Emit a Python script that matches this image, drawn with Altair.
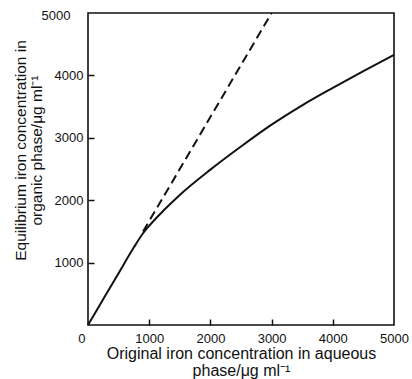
import altair as alt
import pandas as pd

# ---- data ----
solid_x = [0, 250, 500, 750, 900, 1000, 1250, 1500, 2000, 2500, 3000, 3500, 4000, 4500, 5000]
solid_y = [0, 415, 830, 1245, 1470, 1590, 1850, 2085, 2490, 2860, 3210, 3520, 3800, 4070, 4330]
dashed_x = [900, 3000]
dashed_y = [1500, 5000]
x_labels = [0, 1000, 2000, 3000, 4000, 5000]
y_labels = [1000, 2000, 3000, 4000, 5000]
x_inner_ticks = [1000, 2000, 3000, 4000]
y_inner_ticks = [1000, 2000, 3000, 4000]

df_s = pd.DataFrame({"x": solid_x, "y": solid_y})
df_d = pd.DataFrame({"x": dashed_x, "y": dashed_y})

W, H = 306, 312
FONT = "Liberation Sans"
INK = "#111111"

xscale = alt.Scale(domain=[0, 5000], nice=False)
yscale = alt.Scale(domain=[0, 5000], nice=False)

x_main_axis = alt.Axis(
    values=x_labels, format="d", ticks=False, domain=False, grid=False,
    labelFont=FONT, labelFontSize=13, labelColor=INK, labelPadding=7,
    labelFlush=False, labelOverlap=False,
    labelAlign={"condition": {"test": "datum.value == 0", "value": "right"}, "value": "center"},
    labelOffset={"condition": {"test": "datum.value == 0", "value": -3}, "value": 0},
    title=["Original iron concentration in aqueous", "phase/\u03bcg ml\u207b\u00b9"],
    titleFont=FONT, titleFontSize=16, titleFontWeight="normal", titleColor=INK,
    titleLineHeight=17, titleBaseline="top", titleY=20,
)
y_main_axis = alt.Axis(
    values=y_labels, format="d", ticks=False, domain=False, grid=False,
    labelFont=FONT, labelFontSize=13, labelColor=INK,
    labelOverlap=False,
    labelPadding={"condition": {"test": "datum.value == 5000", "value": 18}, "value": 5},
    labelOffset={"condition": {"test": "datum.value == 5000", "value": 2}, "value": 0},
    title=["Equilibrium iron concentration in", "organic phase/\u03bcg ml\u207b\u00b9"],
    titleFont=FONT, titleFontSize=15.5, titleFontWeight="normal", titleColor=INK,
    titleLineHeight=16, titleBaseline="top", titleAlign="center", titleAngle=270,
    titleX=-75, titleY=137,
)
x_tick_axis = alt.Axis(
    orient="top", offset=-H, values=x_inner_ticks, labels=False, ticks=True,
    tickSize=6, tickWidth=1.5, tickColor=INK, domain=False, grid=False, title=None,
)
y_tick_axis = alt.Axis(
    orient="right", offset=-W, values=y_inner_ticks, labels=False, ticks=True,
    tickSize=6, tickWidth=1.5, tickColor=INK, domain=False, grid=False, title=None,
)

solid = alt.Chart(df_s).mark_line(color=INK, strokeWidth=2, interpolate="monotone").encode(
    x=alt.X("x:Q", scale=xscale, axis=x_main_axis),
    y=alt.Y("y:Q", scale=yscale, axis=y_main_axis),
    order="x:Q",
)
dashed = alt.Chart(df_d).mark_line(color=INK, strokeWidth=2, strokeDash=[9, 5]).encode(
    x=alt.X("x:Q", scale=xscale, axis=x_tick_axis),
    y=alt.Y("y:Q", scale=yscale, axis=y_tick_axis),
)

chart = alt.layer(solid, dashed).resolve_axis(x="independent", y="independent").properties(
    width=W, height=H,
    autosize=alt.AutoSizeParams(type="none"),
    padding={"left": 88, "top": 13, "right": 18, "bottom": 54},
    background="white",
).configure_view(stroke=INK, strokeWidth=1.6)

chart.save("out.html", embed_options={"renderer": "svg", "actions": False})
